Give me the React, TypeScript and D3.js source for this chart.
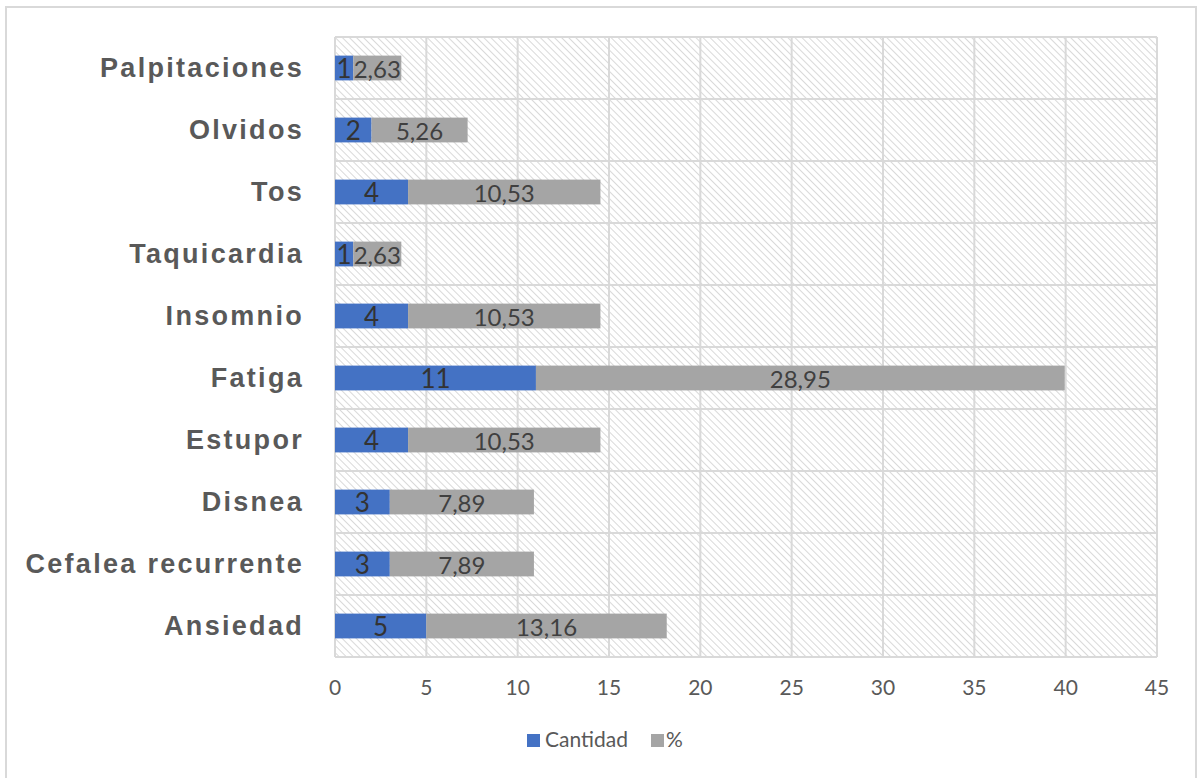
import React from 'react';
import * as d3 from 'd3';

// categories listed top to bottom
const categories = [
  'Palpitaciones',
  'Olvidos',
  'Tos',
  'Taquicardia',
  'Insomnio',
  'Fatiga',
  'Estupor',
  'Disnea',
  'Cefalea recurrente',
  'Ansiedad',
];
const cantidad = [1, 2, 4, 1, 4, 11, 4, 3, 3, 5];
const porcentaje = [2.63, 5.26, 10.53, 2.63, 10.53, 28.95, 10.53, 7.89, 7.89, 13.16];
const xTicks = [0, 5, 10, 15, 20, 25, 30, 35, 40, 45];

const W = 1198;
const H = 778;
const left = 335;
const right = 1157;
const top = 37;
const bottom = 657;

const BLUE = '#4472C4';
const GRAY = '#A5A5A5';

const App = () => {
  const x = d3.scaleLinear().domain([0, 45]).range([left, right]);
  const y = d3.scaleBand().domain(categories).range([top, bottom]).paddingInner(0.6).paddingOuter(0.3);
  const rows = d3.scaleBand().domain(categories).range([top, bottom]);

  const fmt = (v: number) => v.toFixed(2).replace('.', ',');

  return (
    <svg width={W} height={H} style={{ display: 'block', position: 'absolute', left: 0, top: 0 }}>
      <defs>
        <pattern id="hatch" width="5" height="5" patternUnits="userSpaceOnUse" patternTransform="rotate(-45)">
          <line x1="0" y1="0" x2="0" y2="5" stroke="#d9d9d9" strokeWidth="2" />
        </pattern>
      </defs>
      <rect x={0} y={0} width={W} height={H} fill="#fff" />
      <rect x={6} y={7} width={1190} height={780} fill="#fff" stroke="#d9d9d9" strokeWidth={2} />

      {/* plot area */}
      <rect x={left} y={top} width={right - left} height={bottom - top} fill="url(#hatch)" />
      {categories.map((c) => (
        <line key={'h' + c} x1={left} x2={right} y1={rows(c)!} y2={rows(c)!} stroke="#d9d9d9" strokeWidth={2} />
      ))}
      <line x1={left} x2={right} y1={bottom} y2={bottom} stroke="#d9d9d9" strokeWidth={2} />
      {xTicks.map((t) => (
        <line key={'v' + t} x1={x(t)} x2={x(t)} y1={top} y2={bottom} stroke="#d9d9d9" strokeWidth={2} />
      ))}

      {/* bars */}
      {categories.map((c, i) => {
        const yy = y(c)!;
        const bh = y.bandwidth();
        const c0 = x(0);
        const c1 = x(cantidad[i]);
        const p1 = x(cantidad[i] + porcentaje[i]);
        return (
          <g key={'b' + c}>
            <rect x={c0} y={yy} width={c1 - c0} height={bh} fill={BLUE} />
            <rect x={c1} y={yy} width={p1 - c1} height={bh} fill={GRAY} />
            <text x={(c0 + c1) / 2} y={yy + bh / 2 + 10} textAnchor="middle" fontFamily="Lato, sans-serif" fontSize={26} fill="#333">
              {cantidad[i]}
            </text>
            <text x={(c1 + p1) / 2} y={yy + bh / 2 + 10} textAnchor="middle" fontFamily="Lato, sans-serif" fontSize={24} fill="#404040">
              {fmt(porcentaje[i])}
            </text>
          </g>
        );
      })}

      {/* category labels */}
      {categories.map((c) => (
        <text key={'l' + c} x={304} y={rows(c)! + rows.bandwidth() / 2 + 9} textAnchor="end" fontFamily="'Liberation Sans', Arial, sans-serif" fontWeight="bold" fontSize={27} letterSpacing={2.3} fill="#595959">
          {c}
        </text>
      ))}

      {/* x tick labels */}
      {xTicks.map((t) => (
        <text key={'t' + t} x={x(t)} y={695} textAnchor="middle" fontFamily="Lato, sans-serif" fontSize={21} fill="#595959">
          {t}
        </text>
      ))}

      {/* legend */}
      <rect x={527} y={734} width={13} height={13} fill={BLUE} />
      <text x={545} y={747} fontFamily="Lato, sans-serif" fontSize={21} fill="#595959">Cantidad</text>
      <rect x={651} y={734} width={13} height={13} fill={GRAY} />
      <text x={666} y={747} fontFamily="Lato, sans-serif" fontSize={21} fill="#595959">%</text>
    </svg>
  );
};

export default App;
